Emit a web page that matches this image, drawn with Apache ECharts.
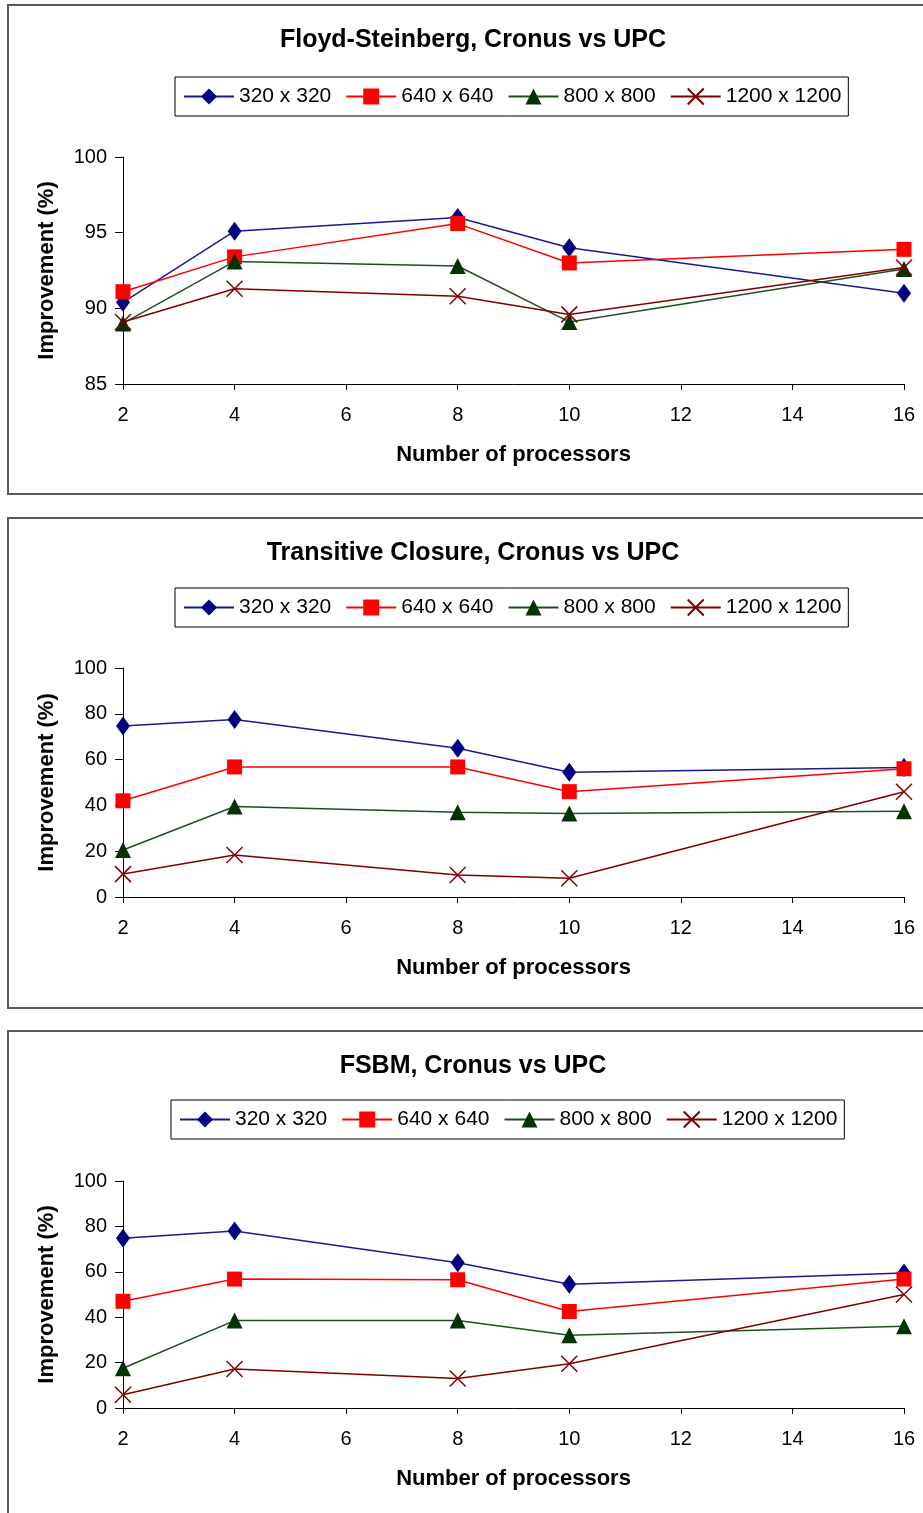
<!DOCTYPE html>
<html>
<head>
<meta charset="utf-8">
<script src="https://cdn.jsdelivr.net/npm/echarts@6/dist/echarts.min.js"></script>
<style>
  html, body { margin: 0; padding: 0; background: #fff; }
  #chart { width: 923px; height: 1513px; }
</style>
</head>
<body>
<div id="chart"></div>
<script>
'use strict';
// number of processors (x values)
var procs = [2, 4, 8, 10, 16];
var sizes = ['320 x 320', '640 x 640', '800 x 800', '1200 x 1200'];

// Floyd-Steinberg
var fs320 = [90.4, 95.1, 96.0, 94.0, 91.0];
var fs640 = [91.1, 93.4, 95.6, 93.0, 93.9];
var fs800 = [89.0, 93.1, 92.8, 89.1, 92.6];
var fs1200 = [89.1, 91.3, 90.8, 89.6, 92.7];

// Transitive Closure
var tc320 = [74.7, 77.5, 65.0, 54.5, 56.6];
var tc640 = [42.0, 56.8, 56.8, 46.0, 56.0];
var tc800 = [20.5, 39.5, 37.0, 36.5, 37.5];
var tc1200 = [10.0, 18.3, 9.6, 8.2, 46.0];

// FSBM
var fb320 = [74.8, 78.0, 64.0, 54.5, 59.5];
var fb640 = [47.0, 56.8, 56.5, 42.5, 56.8];
var fb800 = [17.5, 38.5, 38.5, 32.0, 36.0];
var fb1200 = [5.8, 17.2, 13.0, 19.5, 50.0];

var titles = ['Floyd-Steinberg, Cronus vs UPC', 'Transitive Closure, Cronus vs UPC', 'FSBM, Cronus vs UPC'];
var yRanges = [[85, 100, 5], [0, 100, 20], [0, 100, 20]];

var panels = [
  { top: 5, h: 489, title: 23, legend: 77, legendLeft: 175, grid: 157, gh: 227, sets: [fs320, fs640, fs800, fs1200] },
  { top: 518, h: 490, title: 536, legend: 588, legendLeft: 175, grid: 668, gh: 229, sets: [tc320, tc640, tc800, tc1200] },
  { top: 1031, h: 500, title: 1049, legend: 1100, legendLeft: 171, grid: 1181, gh: 227, sets: [fb320, fb640, fb800, fb1200] }
];

var FONT = "'Liberation Sans', Arial, sans-serif";
var markers = [
  { symbol: 'diamond', size: [14, 19], color: '#000080', line: '#1a1a8c', border: 0 },
  { symbol: 'rect', size: 15, color: '#ff0000', line: '#ff0000', border: 0 },
  { symbol: 'triangle', size: [16, 16], color: '#003300', line: '#1f4f1f', border: 0 },
  { symbol: 'path://M0,0L10,10M10,0L0,10', size: 16, color: '#800000', line: '#800000', border: 1.5 }
];

var option = {
  animation: false,
  backgroundColor: '#fff',
  textStyle: { fontFamily: FONT },
  graphic: [],
  title: [],
  legend: [],
  grid: [],
  xAxis: [],
  yAxis: [],
  series: []
};

panels.forEach(function (p, i) {
  option.graphic.push({
    type: 'rect',
    shape: { x: 8, y: p.top, width: 960, height: p.h },
    style: { fill: 'none', stroke: '#5a5a5a', lineWidth: 2 }
  });
  option.title.push({
    text: titles[i],
    left: 468,
    top: p.title,
    textAlign: 'center',
    textStyle: { fontFamily: FONT, fontSize: 25, fontWeight: 'bold', color: '#000' }
  });
  option.legend.push({
    data: sizes,
    left: p.legendLeft,
    top: p.legend,
    orient: 'horizontal',
    itemWidth: 50,
    itemHeight: 20,
    itemGap: 14,
    padding: [9, 7, 9, 8],
    borderColor: '#000',
    borderWidth: 1,
    selectedMode: false,
    textStyle: { fontFamily: FONT, fontSize: 21, color: '#000' }
  });
  option.grid.push({ left: 123, right: 19, top: p.grid, height: p.gh });
  option.xAxis.push({
    type: 'value',
    gridIndex: i,
    min: 2,
    max: 16,
    interval: 2,
    name: 'Number of processors',
    nameLocation: 'middle',
    nameGap: 60,
    nameTextStyle: { fontFamily: FONT, fontSize: 22, fontWeight: 'bold', color: '#000' },
    axisLine: { show: true, onZero: false, lineStyle: { color: '#000', width: 1 } },
    axisTick: { show: true, length: 6, lineStyle: { color: '#000' } },
    axisLabel: { margin: 21, fontFamily: FONT, fontSize: 20, color: '#000' },
    splitLine: { show: false }
  });
  option.yAxis.push({
    type: 'value',
    gridIndex: i,
    min: yRanges[i][0],
    max: yRanges[i][1],
    interval: yRanges[i][2],
    name: 'Improvement (%)',
    nameLocation: 'middle',
    nameGap: 65,
    nameTextStyle: { fontFamily: FONT, fontSize: 22, fontWeight: 'bold', color: '#000' },
    axisLine: { show: true, lineStyle: { color: '#000', width: 1 } },
    axisTick: { show: true, length: 8, lineStyle: { color: '#000' } },
    axisLabel: { margin: 16, fontFamily: FONT, fontSize: 20, color: '#000' },
    splitLine: { show: false }
  });
  p.sets.forEach(function (vals, k) {
    var m = markers[k];
    option.series.push({
      name: sizes[k],
      type: 'line',
      xAxisIndex: i,
      yAxisIndex: i,
      data: procs.map(function (x, j) { return [x, vals[j]]; }),
      symbol: m.symbol,
      symbolSize: m.size,
      showAllSymbol: true,
      lineStyle: { color: m.line, width: 1.5 },
      itemStyle: { color: m.color, borderColor: m.color, borderWidth: m.border, opacity: 1 },
      emphasis: { disabled: true },
      z: 2 + k
    });
  });
});

var chart = echarts.init(document.getElementById('chart'), null, { renderer: 'canvas' });
chart.setOption(option);
</script>
</body>
</html>
